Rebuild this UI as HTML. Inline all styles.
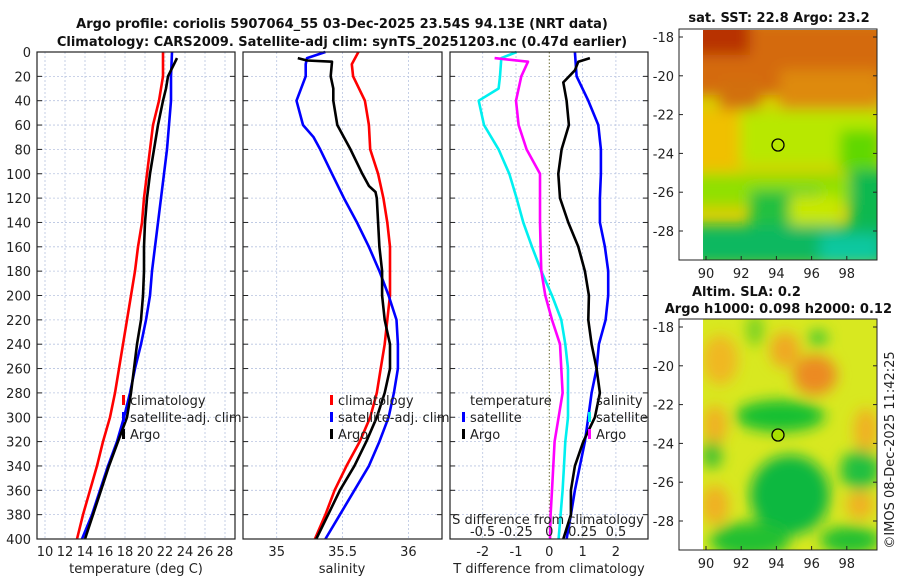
<!DOCTYPE html>
<html><head><meta charset="utf-8">
<style>
body{margin:0;background:#fff;}
svg{display:block;font-family:"DejaVu Sans","Liberation Sans",sans-serif;}
.t{font-size:13px;fill:#222;}
.b{font-size:13px;font-weight:bold;fill:#111;}
</style></head>
<body>
<svg id="c" width="900" height="580" viewBox="0 0 900 580">
<defs>
<filter id="bl" x="-20%" y="-20%" width="140%" height="140%"><feGaussianBlur stdDeviation="7"/></filter>
<clipPath id="cm1"><rect x="703" y="30" width="174" height="230"/></clipPath>
<clipPath id="cm2"><rect x="703" y="319" width="174" height="231"/></clipPath>
</defs>
<text class="b" x="342" y="28" text-anchor="middle">Argo profile: coriolis 5907064_55 03-Dec-2025 23.54S 94.13E (NRT data)</text>
<text class="b" x="342" y="46" text-anchor="middle">Climatology: CARS2009. Satellite-adj clim: synTS_20251203.nc (0.47d earlier)</text>
<g id="grid"></g>
<g id="lines"></g>
<g id="axes"></g>

<!-- SST map -->
<g>
<text class="b" x="779" y="22" text-anchor="middle">sat. SST: 22.8 Argo: 23.2</text>
<g clip-path="url(#cm1)">
<rect x="703" y="30" width="174" height="230" fill="#d8d000"/>
<g filter="url(#bl)">
<rect x="690" y="20" width="200" height="75" fill="#d46a08"/>
<rect x="690" y="15" width="60" height="40" fill="#b83000"/>
<rect x="720" y="80" width="40" height="30" fill="#d27010"/>
<rect x="780" y="70" width="100" height="40" fill="#de8a08"/>
<rect x="740" y="110" width="140" height="55" fill="#b8e800"/>
<rect x="690" y="110" width="50" height="60" fill="#f0c000"/>
<rect x="840" y="130" width="40" height="40" fill="#60d800"/>
<rect x="690" y="175" width="200" height="30" fill="#90e000"/>
<rect x="750" y="190" width="70" height="40" fill="#20c040"/>
<rect x="850" y="170" width="40" height="60" fill="#10b850"/>
<rect x="690" y="225" width="200" height="40" fill="#10b860"/>
<rect x="820" y="235" width="60" height="30" fill="#10c8a0"/>
<rect x="790" y="195" width="50" height="30" fill="#c8e800"/>
</g>
</g>
<rect x="679" y="29" width="198" height="231" fill="none" stroke="#222" stroke-width="1"/>
<circle cx="778" cy="145" r="6" fill="none" stroke="#000" stroke-width="1.3"/>
</g>

<!-- SLA map -->
<g>
<text class="b" x="692" y="296">Altim. SLA: 0.2</text>
<text class="b" x="892" y="313" text-anchor="end">Argo h1000: 0.098 h2000: 0.12</text>
<g clip-path="url(#cm2)">
<rect x="703" y="319" width="174" height="231" fill="#d8e820"/>
<g filter="url(#bl)">
<ellipse cx="720" cy="360" rx="18" ry="25" fill="#f0b820"/>
<ellipse cx="785" cy="350" rx="15" ry="18" fill="#f0a820"/>
<ellipse cx="815" cy="375" rx="22" ry="20" fill="#ec8a20"/>
<ellipse cx="818" cy="338" rx="10" ry="8" fill="#40c830"/>
<ellipse cx="755" cy="330" rx="8" ry="16" fill="#70d020"/>
<ellipse cx="780" cy="416" rx="45" ry="16" fill="#18c030"/>
<ellipse cx="715" cy="425" rx="12" ry="20" fill="#f0b020"/>
<ellipse cx="866" cy="430" rx="12" ry="22" fill="#f0b020"/>
<ellipse cx="712" cy="455" rx="10" ry="14" fill="#40c030"/>
<ellipse cx="860" cy="470" rx="20" ry="20" fill="#20c040"/>
<ellipse cx="790" cy="495" rx="40" ry="40" fill="#10b840"/>
<ellipse cx="715" cy="505" rx="14" ry="20" fill="#f0b020"/>
<ellipse cx="860" cy="505" rx="14" ry="14" fill="#f0b020"/>
<ellipse cx="750" cy="540" rx="40" ry="18" fill="#20c030"/>
<ellipse cx="850" cy="540" rx="30" ry="14" fill="#20c030"/>
</g>
</g>
<rect x="679" y="319" width="198" height="231" fill="none" stroke="#222" stroke-width="1"/>
<circle cx="778" cy="435" r="6" fill="#a8e000" stroke="#000" stroke-width="1.3"/>
</g>
<g id="maxes"></g>
<text class="t" transform="translate(894,450) rotate(-90)" text-anchor="middle">©IMOS 08-Dec-2025 11:42:25</text>
</svg>
<script>
// ===== data =====
const depthTicks = [0,20,40,60,80,100,120,140,160,180,200,220,240,260,280,300,320,340,360,380,400];
const tempTicks = [10,12,14,16,18,20,22,24,26,28];
const salTicks = [35,35.5,36];
const salTickLabels = ["35","35.5","36"];
const dTTicks = [-2,-1,0,1,2];
const dSTicks = [-0.5,-0.25,0,0.25,0.5];
const dSTickLabels = ["-0.5","-0.25","0","0.25","0.5"];

const depthStd = [0,20,40,60,80,100,120,140,160,180,200,220,240,260,280,300,320,340,360,380,400];
const tempClim = [21.8,21.8,21.4,20.8,20.5,20.2,19.9,19.7,19.3,19.0,18.6,18.2,17.8,17.4,17.0,16.5,15.8,15.2,14.5,13.8,13.2];
const tempSat  = [22.7,22.6,22.6,22.4,22.2,21.9,21.6,21.3,21.0,20.7,20.5,20.1,19.6,19.0,18.5,17.9,17.2,16.3,15.5,14.7,13.7];
const depthArgoT = [5,10,20,30,40,60,80,100,120,140,160,180,200,220,240,260,280,300,320,340,360,380,400];
const tempArgo = [23.2,22.9,22.3,22.1,21.8,21.3,20.9,20.5,20.2,20.0,19.9,19.9,19.8,19.6,19.2,18.9,18.6,18.2,17.3,16.4,15.6,14.8,14.0];

const depthClimS = [0,10,20,40,60,80,100,120,140,160,180,200,220,240,260,280,300,320,340,360,380,400];
const salClim = [35.62,35.57,35.58,35.67,35.70,35.71,35.77,35.81,35.84,35.86,35.86,35.86,35.84,35.82,35.79,35.76,35.71,35.63,35.53,35.44,35.37,35.29];
const depthSatS = [0,5,10,20,40,60,70,80,100,120,140,160,180,200,220,240,260,280,300,320,340,360,380,400];
const salSat = [35.37,35.23,35.22,35.22,35.15,35.20,35.28,35.33,35.42,35.51,35.61,35.70,35.78,35.85,35.91,35.92,35.92,35.89,35.85,35.78,35.70,35.59,35.48,35.37];
const depthArgoS = [5,7,8,20,30,40,60,70,80,100,110,115,120,140,160,180,200,220,230,240,260,280,300,320,340,360,380,400];
const salArgo = [35.16,35.23,35.42,35.41,35.43,35.43,35.46,35.51,35.56,35.65,35.70,35.75,35.76,35.77,35.78,35.80,35.80,35.82,35.84,35.86,35.86,35.82,35.76,35.68,35.59,35.48,35.39,35.30];

const dTSat = [0.77,0.82,1.17,1.47,1.55,1.55,1.52,1.52,1.67,1.77,1.77,1.69,1.49,1.42,1.27,1.17,1.07,0.92,0.77,0.65,0.52];
const depthDTArgo = [5,8,15,25,40,60,80,100,120,140,160,180,200,220,240,260,280,300,320,340,360,380,400];
const dTArgo = [1.22,0.87,0.77,0.42,0.52,0.59,0.37,0.27,0.32,0.57,0.87,1.07,1.19,1.17,1.27,1.42,1.52,1.37,1.02,0.77,0.65,0.65,0.42];
const depthDSSat = [0,5,20,30,40,60,80,100,120,140,160,180,200,220,240,260,280,300,320,340,360,380,400];
const dSSat = [-0.245,-0.36,-0.37,-0.38,-0.53,-0.49,-0.38,-0.30,-0.245,-0.195,-0.13,-0.06,0.02,0.09,0.12,0.14,0.14,0.14,0.12,0.11,0.10,0.085,0.07];
const depthDSArgo = [5,8,20,40,60,80,100,120,140,160,180,200,220,240,260,280,300,320,340,360,380,400];
const dSArgo = [-0.41,-0.16,-0.21,-0.25,-0.23,-0.17,-0.07,-0.07,-0.07,-0.065,-0.06,-0.03,0.02,0.08,0.09,0.10,0.07,0.04,0.03,0.02,0.01,0.005];

const lonTicks = [90,92,94,96,98];
const latTicks = [-18,-20,-22,-24,-26,-28];

// ===== scales =====
const NS='http://www.w3.org/2000/svg';
const yD = d => 52 + d*1.2175;
const xT = t => 45 + (t-10)*10;
const xS = s => 276.7 + (s-35)*131.7;
const xdT = t => 549.3 + t*33.3;
const xdS = s => 549.3 + s*133.3;
const xLon = l => 706 + (l-90)*17.6;
const yLat1 = l => 37 + (-18-l)*19.4;
const yLat2 = l => 327 + (-18-l)*19.4;

const panels = [{x0:37,x1:235},{x0:243,x1:442},{x0:450,x1:648}];
const yTop=52, yBot=539;

function mk(tag, attrs, parent, txt){
  const e=document.createElementNS(NS,tag);
  for(const k in attrs) e.setAttribute(k,attrs[k]);
  if(txt!==undefined) e.textContent=txt;
  parent.appendChild(e); return e;
}
const G=document.getElementById('grid'), L=document.getElementById('lines'), A=document.getElementById('axes'), M=document.getElementById('maxes');
const gridStyle={stroke:'#b8c4e0','stroke-width':0.8,'stroke-dasharray':'2,2'};

panels.forEach((p,i)=>{
  depthTicks.forEach(d=>{
    const g=mk('line',Object.assign({x1:p.x0,x2:p.x1,y1:yD(d),y2:yD(d)},gridStyle),G);
    
    
    mk('line',{x1:p.x0,x2:p.x0+5,y1:yD(d),y2:yD(d),stroke:'#222'},A);
    mk('line',{x1:p.x1-5,x2:p.x1,y1:yD(d),y2:yD(d),stroke:'#222'},A);
  });
  const r=mk('rect',{x:p.x0,y:yTop,width:p.x1-p.x0,height:yBot-yTop,fill:'none',stroke:'#222','stroke-width':1.2},A);
  
  
});
depthTicks.forEach(d=>{
  const t=mk('text',{x:31,y:yD(d)+5,'text-anchor':'end',class:'t'},A,String(d));
  
  
});
tempTicks.forEach(v=>{
  const g=mk('line',Object.assign({x1:xT(v),x2:xT(v),y1:yTop,y2:yBot},gridStyle),G);
  
  
  const t=mk('text',{x:xT(v),y:556,'text-anchor':'middle',class:'t'},A,String(v));
  
  
});
salTicks.forEach((v,i)=>{
  const g=mk('line',Object.assign({x1:xS(v),x2:xS(v),y1:yTop,y2:yBot},gridStyle),G);
  
  
  const t=mk('text',{x:xS(v),y:556,'text-anchor':'middle',class:'t'},A,salTickLabels[i]);
  
  
});
dTTicks.forEach(v=>{
  if(v!==0){
    const g=mk('line',Object.assign({x1:xdT(v),x2:xdT(v),y1:yTop,y2:yBot},gridStyle),G);
    
    
  }
  const t=mk('text',{x:xdT(v),y:556,'text-anchor':'middle',class:'t'},A,String(v));
  
  
});
const z=mk('line',{x1:xdT(0),x2:xdT(0),y1:yTop,y2:yBot,stroke:'#6b6b30','stroke-width':1,'stroke-dasharray':'1.5,2'},G);



function series(xs,ds,fx,color,name){
  const pts=xs.map((v,i)=>fx(v).toFixed(1)+','+yD(ds[i]).toFixed(1)).join(' ');
  const e=mk('polyline',{points:pts,fill:'none',stroke:color,'stroke-width':2.6,'stroke-linejoin':'round'},L);
  
  
}
series(tempClim,depthStd,xT,'#ff0000','temp-climatology-line');
series(tempSat,depthStd,xT,'#0000ff','temp-satellite-line');
series(tempArgo,depthArgoT,xT,'#000000','temp-argo-line');
series(salClim,depthClimS,xS,'#ff0000','sal-climatology-line');
series(salSat,depthSatS,xS,'#0000ff','sal-satellite-line');
series(salArgo,depthArgoS,xS,'#000000','sal-argo-line');
series(dSSat,depthDSSat,xdS,'#00f0f0','sdiff-satellite-line');
series(dSArgo,depthDSArgo,xdS,'#ff00ff','sdiff-argo-line');
series(dTSat,depthStd,xdT,'#0000ff','tdiff-satellite-line');
series(dTArgo,depthDTArgo,xdT,'#000000','tdiff-argo-line');

// legends
function legItem(x,y,color,label,name){
  if(color){
    const m=mk('rect',{x:x-8,y:y-10,width:3,height:10,fill:color},A);
    
    
  }
  const t=mk('text',{x:x,y:y,class:'t'},A,label);
  
  
}
legItem(130,405,'#ff0000','climatology','legend-climatology');
legItem(130,422,'#0000ff','satellite-adj. clim','legend-satellite');
legItem(130,439,'#000000','Argo','legend-argo');
legItem(338,405,'#ff0000','climatology','legend2-climatology');
legItem(338,422,'#0000ff','satellite-adj. clim','legend2-satellite');
legItem(338,439,'#000000','Argo','legend2-argo');
legItem(470,405,null,'temperature','legend3-temperature');
legItem(470,422,'#0000ff','satellite','legend3-temp-satellite');
legItem(470,439,'#000000','Argo','legend3-temp-argo');
legItem(596,405,null,'salinity','legend3-salinity');
legItem(596,422,'#00f0f0','satellite','legend3-sal-satellite');
legItem(596,439,'#ff00ff','Argo','legend3-sal-argo');

let t=mk('text',{x:548,y:524,'text-anchor':'middle',class:'t'},A,'S difference from climatology');


dSTicks.forEach((v,i)=>{
  const e=mk('text',{x:xdS(v),y:536,'text-anchor':'middle',class:'t'},A,dSTickLabels[i]);
  
  
});
t=mk('text',{x:136,y:573,'text-anchor':'middle',class:'t'},A,'temperature (deg C)');


t=mk('text',{x:342,y:573,'text-anchor':'middle',class:'t'},A,'salinity');


t=mk('text',{x:549,y:573,'text-anchor':'middle',class:'t'},A,'T difference from climatology');



// map axes
[[yLat1,260],[yLat2,550]].forEach(([fy,yb])=>{
  lonTicks.forEach(l=>{
    mk('line',{x1:xLon(l),x2:xLon(l),y1:yb,y2:yb-4,stroke:'#222'},M);
    const e=mk('text',{x:xLon(l),y:yb+18,'text-anchor':'middle',class:'t'},M,String(l));
    
    
  });
  latTicks.forEach(l=>{
    mk('line',{x1:679,x2:683,y1:fy(l),y2:fy(l),stroke:'#222'},M);
    mk('line',{x1:873,x2:877,y1:fy(l),y2:fy(l),stroke:'#222'},M);
    const e=mk('text',{x:674,y:fy(l)+5,'text-anchor':'end',class:'t'},M,String(l));
    
    
  });
});
</script>
</body></html>
